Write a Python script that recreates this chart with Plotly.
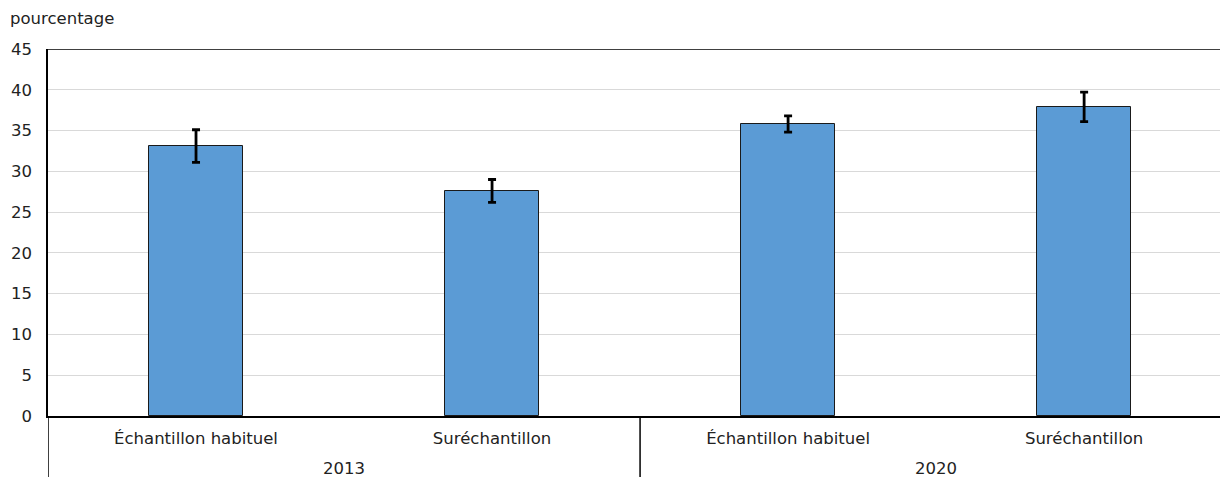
import plotly.graph_objects as go

# Survey years (outer level) and sample types (inner level)
years = ["2013", "2013", "2020", "2020"]
samples = ["Échantillon habituel", "Suréchantillon", "Échantillon habituel", "Suréchantillon"]

# Percentages and their confidence half-widths
values = [33.1, 27.6, 35.8, 37.9]
errors = [2.0, 1.4, 1.0, 1.8]

y_ticks = [0, 5, 10, 15, 20, 25, 30, 35, 40, 45]

FONT = "DejaVu Sans"
FS = 16.5
TEXT = "#222222"

positions = list(range(len(samples)))

fig = go.Figure()
fig.add_trace(go.Bar(
    x=positions,
    y=values,
    width=0.315,
    marker=dict(color="#5B9BD5", line=dict(color="#1a1a1a", width=1)),
    error_y=dict(type="data", array=errors, visible=True,
                 color="#000000", thickness=2.8, width=4),
))

fig.update_layout(
    width=1220, height=477,
    margin=dict(l=48, r=0, t=49, b=61),
    paper_bgcolor="white", plot_bgcolor="white",
    showlegend=False,
    font=dict(family=FONT, size=FS, color=TEXT),
    bargap=0,
)

fig.update_yaxes(
    range=[0, 45], tickvals=y_ticks, ticktext=[str(v) for v in y_ticks],
    showgrid=True, gridcolor="#d9d9d9", gridwidth=1,
    showline=True, linecolor="#000000", linewidth=1.5,
    ticks="", ticklabelstandoff=11, zeroline=False,
)
# The last category runs a little past the right edge of the page
fig.update_xaxes(
    range=[-0.5, 3.459], tickvals=positions, ticktext=samples,
    showgrid=False, zeroline=False,
    showline=True, linecolor="#000000", linewidth=2,
    ticks="", ticklabelstandoff=6,
)

# Frame line across the top of the plotting area
fig.add_shape(type="line", xref="paper", yref="y", x0=0, x1=1, y0=45, y1=45,
              line=dict(color="#000000", width=1.5))

# Year group labels and the dividers that separate the groups
groups = []
for pos, yr in zip(positions, years):
    if not groups or groups[-1][0] != yr:
        groups.append([yr, [pos]])
    else:
        groups[-1][1].append(pos)

for yr, members in groups:
    fig.add_annotation(text=yr, xref="x", yref="paper",
                       x=sum(members) / len(members), y=0,
                       yshift=-52, yanchor="middle", showarrow=False,
                       font=dict(family=FONT, size=FS, color=TEXT))
    fig.add_shape(type="line", xref="x", yref="paper",
                  x0=members[0] - 0.5, x1=members[0] - 0.5,
                  y0=0, y1=-61 / 367, line=dict(color="#000000", width=1.5))

fig.add_annotation(text="pourcentage", xref="paper", yref="paper",
                   x=-40 / 1172, y=1, xanchor="left", yanchor="bottom",
                   yshift=19, showarrow=False,
                   font=dict(family=FONT, size=FS, color=TEXT))

fig.write_html("out.html")
